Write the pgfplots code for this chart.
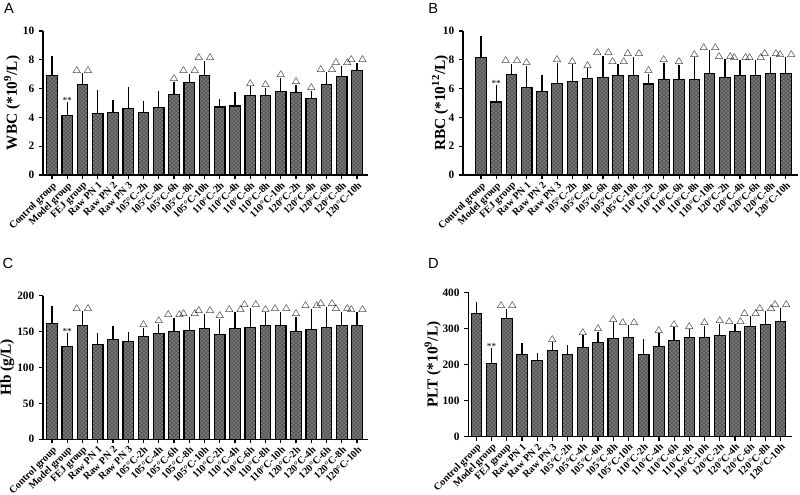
\documentclass[border=0pt]{standalone}
\usepackage{fontspec}
\setmainfont{Liberation Serif}
\newfontfamily\sansf{Liberation Sans}
\usepackage{pgfplots}
\pgfplotsset{compat=1.18}
\usetikzlibrary{patterns}
\newcommand{\tA}{$\triangle$}
\newcommand{\tB}{$\triangle\,\triangle$}
\pgfplotsset{
 panel/.style={
   scale only axis,
   axis x line*=bottom, axis y line*=left,
   axis line style={line width=1.1pt,-},
   ymin=0, xmin=-0.59, xmax=20.72,
   xtick={0,...,20},
   xticklabels={Control group, Model group, FEJ group, Raw PN 1, Raw PN 2, Raw PN 3,
     105°C-2h, 105°C-4h, 105°C-6h, 105°C-8h, 105°C-10h,
     110°C-2h, 110°C-4h, 110°C-6h, 110°C-8h, 110°C-10h,
     120°C-2h, 120°C-4h, 120°C-6h, 120°C-8h, 120°C-10h},
   x tick label style={rotate=45, anchor=north east, font=\bfseries\fontsize{7.6}{8}\selectfont, inner sep=1pt},
   y tick label style={font=\bfseries\fontsize{8.5}{9}\selectfont},
   /pgf/number format/assume math mode=true,
   tick style={line width=0.9pt, black},
   tick align=outside,
   major tick length=3pt,
   ylabel style={font=\bfseries\fontsize{11.5}{13}\selectfont, anchor=center},
   clip=false,
 },
 bars/.style={ybar, bar width=7.9pt, draw=black, line width=0.8pt, fill=black!55,
   postaction={pattern=crosshatch dots, pattern color=black},
   error bars/.cd, y dir=plus, y explicit,
   error bar style={line width=1pt, black, solid},
   error mark options={line width=1pt, mark size=3pt, black}},
 ann/.style={only marks, mark=none, nodes near coords, point meta=explicit symbolic,
   nodes near coords style={font=\fontsize{7}{8}\selectfont, anchor=south, inner sep=1.5pt}},
}
\begin{document}
\begin{tikzpicture}
\useasboundingbox (0,0) rectangle (600pt,371.25pt);
% ---------------- A
\begin{axis}[panel, at={(32.25pt,240pt)}, anchor=south west, width=243.75pt, height=108pt,
  ymax=10, ytick={0,2,...,10}, ylabel={WBC (*10\textsuperscript{9}/L)},
  ylabel style={at={(axis description cs:-0.095,0.5)}}]
\addplot[bars] coordinates {
 (0,6.92) +- (0,1.08)
 (1,4.14) +- (0,0.65)
 (2,6.27) +- (0,0.51)
 (3,4.28) +- (0,1.37)
 (4,4.35) +- (0,0.56)
 (5,4.63) +- (0,1.20)
 (6,4.35) +- (0,0.51)
 (7,4.68) +- (0,0.85)
 (8,5.60) +- (0,0.60)
 (9,6.44) +- (0,0.30)
 (10,6.94) +- (0,0.72)
 (11,4.72) +- (0,0.28)
 (12,4.79) +- (0,0.72)
 (13,5.49) +- (0,0.39)
 (14,5.53) +- (0,0.23)
 (15,5.81) +- (0,0.65)
 (16,5.72) +- (0,0.28)
 (17,5.28) +- (0,0.30)
 (18,6.27) +- (0,0.58)
 (19,6.85) +- (0,0.46)
 (20,7.27) +- (0,0.23)
};
\addplot[ann] coordinates {
 (1,4.79) [**] (2,6.78) [\tB] (8,6.2) [\tA] (9,6.74) [\tB] (10,7.66) [\tB]
 (13,5.88) [\tA] (14,5.76) [\tA] (15,6.46) [\tA] (16,6.0) [\tA] (17,5.58) [\tA]
 (18,6.85) [\tB] (19,7.31) [\tB] (20,7.5) [\tB]
};
\end{axis}
% ---------------- B
\begin{axis}[panel, at={(347.25pt,240pt)}, anchor=south west, width=251.25pt, height=108pt,
  xmin=-1.18, xmax=20.8,
  ymax=10, ytick={0,2,...,10}, ylabel={RBC (*10\textsuperscript{12}/L)},
  ylabel style={at={(axis description cs:-0.068,0.5)}}]
\addplot[bars] coordinates {
 (0,8.13) +- (0,1.27)
 (1,5.07) +- (0,0.93)
 (2,7.01) +- (0,0.44)
 (3,6.09) +- (0,1.20)
 (4,5.79) +- (0,0.90)
 (5,6.34) +- (0,1.18)
 (6,6.50) +- (0,0.91)
 (7,6.69) +- (0,0.44)
 (8,6.78) +- (0,1.22)
 (9,6.94) +- (0,0.47)
 (10,6.88) +- (0,1.04)
 (11,6.32) +- (0,0.44)
 (12,6.60) +- (0,0.92)
 (13,6.64) +- (0,0.74)
 (14,6.64) +- (0,1.26)
 (15,7.08) +- (0,1.30)
 (16,6.78) +- (0,0.97)
 (17,6.92) +- (0,0.77)
 (18,6.92) +- (0,0.77)
 (19,7.04) +- (0,0.88)
 (20,7.08) +- (0,0.82)
};
\addplot[ann] coordinates {
 (1,6.0) [**] (2,7.45) [\tB] (3,7.29) [\tA] (5,7.52) [\tA] (6,7.41) [\tA] (7,7.13) [\tA]
 (8,8.0) [\tB] (9,7.41) [\tB] (10,7.92) [\tB] (11,6.76) [\tA] (12,7.52) [\tA]
 (13,7.38) [\tA] (14,7.9) [\tA] (15,8.38) [\tB] (16,7.75) [\tB] (17,7.69) [\tB]
 (18,7.69) [\tB] (19,7.92) [\tB] (20,7.9) [\tB]
};
\end{axis}
% ---------------- C
\begin{axis}[panel, at={(32.25pt,41.8pt)}, anchor=south west, width=243.75pt, height=107.7pt,
  ymax=200, ytick={0,50,...,200}, ylabel={Hb (g/L)},
  ylabel style={at={(axis description cs:-0.11,0.5)}}]
\addplot[bars] coordinates {
 (0,160.6) +- (0,20.0)
 (1,129.6) +- (0,13.4)
 (2,158.8) +- (0,13.9)
 (3,132.4) +- (0,10.6)
 (4,138.4) +- (0,14.4)
 (5,136.1) +- (0,8.3)
 (6,143.5) +- (0,6.5)
 (7,147.7) +- (0,7.9)
 (8,149.5) +- (0,13.9)
 (9,151.4) +- (0,13.9)
 (10,154.6) +- (0,14.8)
 (11,145.8) +- (0,16.2)
 (12,153.7) +- (0,17.6)
 (13,156.0) +- (0,21.8)
 (14,157.9) +- (0,13.4)
 (15,158.8) +- (0,13.4)
 (16,150.5) +- (0,14.8)
 (17,152.3) +- (0,23.6)
 (18,156.0) +- (0,23.2)
 (19,157.9) +- (0,14.3)
 (20,158.8) +- (0,12.5)
};
\addplot[ann] coordinates {
 (1,143) [**] (2,172.7) [\tB] (6,150) [\tA] (7,155.6) [\tA] (8,163.4) [\tB]
 (9,165.3) [\tB] (10,169.4) [\tB] (11,162) [\tA] (12,171.3) [\tB] (13,177.8) [\tB]
 (14,171.3) [\tA] (15,172.2) [\tB] (16,165.3) [\tA] (17,175.9) [\tB] (18,179.2) [\tB]
 (19,172.2) [\tB] (20,171.3) [\tB]
};
\end{axis}
% ---------------- D
\begin{axis}[panel, at={(351.2pt,43.7pt)}, anchor=south west, width=242.5pt, height=108.3pt,
  xmin=-0.53, xmax=20.72,
  ymax=400, ytick={0,100,...,400}, ylabel={PLT (*10\textsuperscript{9}/L)},
  ylabel style={at={(axis description cs:-0.11,0.5)}}]
\addplot[bars] coordinates {
 (0,342.6) +- (0,19.4)
 (1,201.9) +- (0,33.1)
 (2,326.9) +- (0,15.7)
 (3,228.7) +- (0,18.5)
 (4,210.2) +- (0,10.2)
 (5,239.8) +- (0,10.2)
 (6,227.8) +- (0,13.9)
 (7,247.2) +- (0,22.2)
 (8,260.2) +- (0,19.4)
 (9,271.3) +- (0,34.3)
 (10,274.1) +- (0,23.1)
 (11,228.7) +- (0,29.6)
 (12,249.0) +- (0,26.0)
 (13,267.6) +- (0,25.0)
 (14,274.1) +- (0,11.9)
 (15,275.0) +- (0,21.3)
 (16,281.5) +- (0,20.4)
 (17,291.7) +- (0,8.3)
 (18,304.6) +- (0,17.6)
 (19,311.1) +- (0,25.0)
 (20,320.4) +- (0,25.0)
};
\addplot[ann] coordinates {
 (1,235) [**] (2,342.6) [\tB] (5,250) [\tA] (7,269.4) [\tA] (8,279.6) [\tA]
 (9,305.6) [\tA] (10,297.2) [\tB] (12,275) [\tA] (13,292.6) [\tA] (14,286) [\tA]
 (15,296.3) [\tA] (16,301.9) [\tA] (17,300) [\tB] (18,322.2) [\tB] (19,336.1) [\tB]
 (20,345.4) [\tB]
};
\end{axis}
\node[font=\sansf\fontsize{11}{12}\selectfont] at (6.75pt,365.25pt) {A};
\node[font=\sansf\fontsize{11}{12}\selectfont] at (325pt,365.25pt) {B};
\node[font=\sansf\fontsize{11}{12}\selectfont] at (6pt,174pt) {C};
\node[font=\sansf\fontsize{11}{12}\selectfont] at (325pt,174pt) {D};
\end{tikzpicture}
\end{document}
